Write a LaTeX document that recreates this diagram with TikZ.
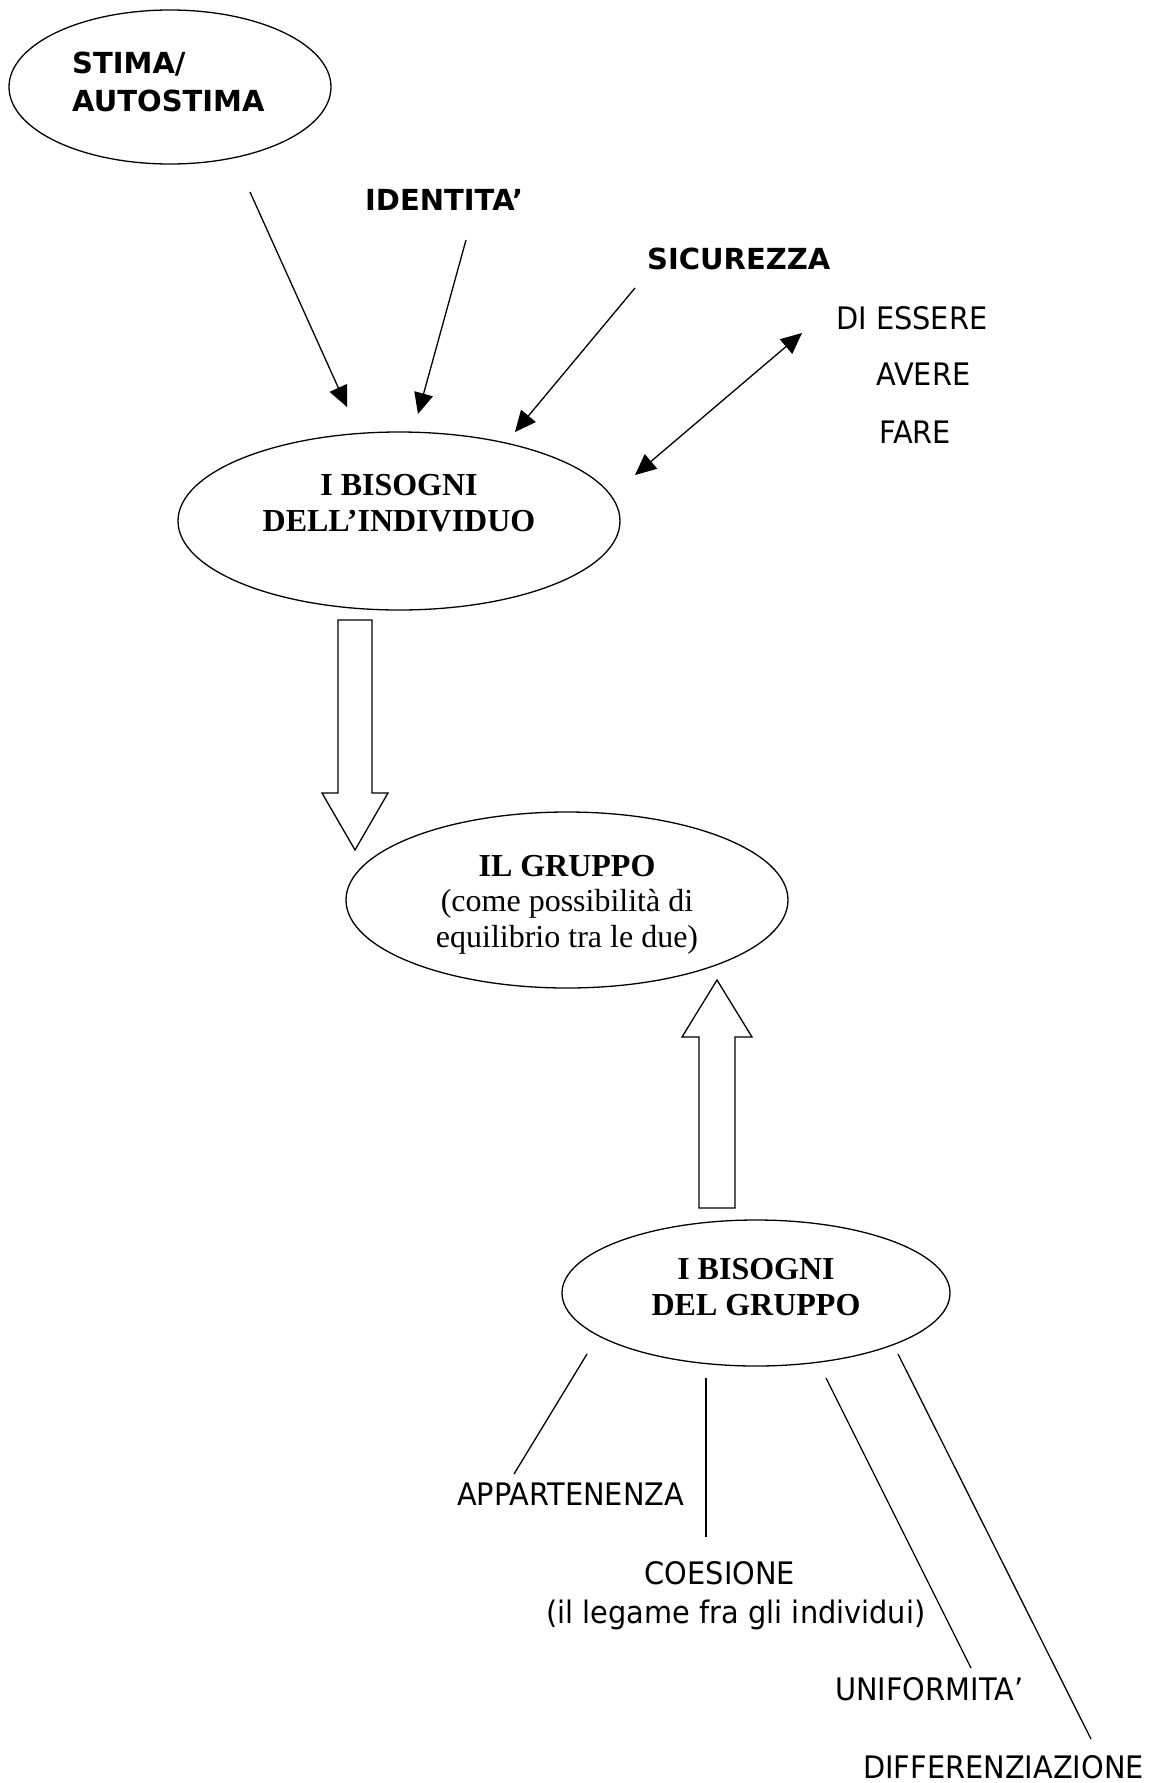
\documentclass[tikz,border=0pt]{standalone}
\usepackage{fontspec}
\setmainfont{Liberation Serif}
\newfontfamily\dvs{DejaVu Sans}
\newfontfamily\dvsn{DejaVu Sans}[FakeStretch=0.93]
\usetikzlibrary{shapes.geometric,arrows.meta}
\begin{document}
\begin{tikzpicture}[x=1pt,y=-1pt,
  bubble/.style={draw, ellipse, line width=1.3pt, inner sep=0pt},
  sbold/.style={font=\dvs\bfseries\fontsize{29}{38}\selectfont, inner sep=0pt},
  sreg/.style={font=\dvsn\fontsize{31}{39}\selectfont, inner sep=0pt},
  serifb/.style={font=\bfseries\fontsize{32}{36.5}\selectfont, inner sep=0pt, align=center},
  serifr/.style={font=\fontsize{32}{35.5}\selectfont, inner sep=0pt, align=center},
  link/.style={line width=1.3pt, -{Triangle[length=21pt,width=19pt]}},
  biglink/.style={line width=1.3pt, {Triangle[length=21pt,width=19pt]}-{Triangle[length=21pt,width=19pt]}},
  plain/.style={line width=1.3pt},
  block/.style={draw, line width=1.3pt, fill=white, line join=miter}]
\fill[white] (0,0) rectangle (1157,1783);
\path[use as bounding box] (0,0) rectangle (1157,1783);

% ellipses
\node[bubble, minimum width=322pt, minimum height=154pt] (stima) at (170,87) {};
\node[bubble, minimum width=442pt, minimum height=178pt] (indiv) at (399,521) {};
\node[bubble, minimum width=442pt, minimum height=176pt] (gruppo) at (567,900) {};
\node[bubble, minimum width=388pt, minimum height=146pt] (bgruppo) at (756,1293) {};

% texts
\node[sbold, align=left, anchor=north west] (stimatxt) at (72,52) {STIMA/\\AUTOSTIMA};
\node[sbold, anchor=north west] (identita) at (365,189) {IDENTITA’};
\node[sbold, anchor=north west] (sicurezza) at (647,248) {SICUREZZA};
\node[sreg, anchor=north west] (diessere) at (836,306) {DI ESSERE};
\node[sreg, anchor=north west] (avere) at (876,363) {AVERE};
\node[sreg, anchor=north west] (fare) at (879,421) {FARE};

\node[serifb, anchor=north] (indivtxt) at (399,474) {I BISOGNI\\DELL’INDIVIDUO};
\node[serifr, anchor=north] (gruppotxt) at (567,855) {\textbf{IL GRUPPO}\\(come possibilità di\\equilibrio tra le due)};
\node[serifb, anchor=north] (bgruppotxt) at (756,1258) {I BISOGNI\\DEL GRUPPO};

\node[sreg, anchor=north west] (appart) at (457,1483) {APPARTENENZA};
\node[sreg, align=center, anchor=north] (coesione) at (736,1561) {COESIONE\hspace*{32pt}\\(il legame fra gli individui)};
\node[sreg, anchor=north west] (uniform) at (835,1677) {UNIFORMITA’};
\node[sreg, anchor=north west] (diff) at (863,1755) {DIFFERENZIAZIONE};

% arrow end points
\coordinate (a1s) at (250,192); \coordinate (a1e) at (347,407);
\coordinate (a2s) at (466,240); \coordinate (a2e) at (418,414);
\coordinate (a3s) at (635,288); \coordinate (a3e) at (515,432);
\coordinate (a4s) at (635,475); \coordinate (a4e) at (802,333);
\coordinate (l1s) at (587,1354); \coordinate (l1e) at (514,1474);
\coordinate (l2s) at (706,1378); \coordinate (l2e) at (706,1537);
\coordinate (l3s) at (826,1378); \coordinate (l3e) at (971,1668);
\coordinate (l4s) at (898,1354); \coordinate (l4e) at (1091,1739);

\draw[link] (a1s) -- (a1e);
\draw[link] (a2s) -- (a2e);
\draw[link] (a3s) -- (a3e);
\draw[biglink] (a4s) -- (a4e);

\draw[plain] (l1s) -- (l1e);
\draw[plain] (l2s) -- (l2e);
\draw[plain] (l3s) -- (l3e);
\draw[plain] (l4s) -- (l4e);

% block arrows
\draw[block] (338,620) -- (372,620) -- (372,793) -- (388,793) -- (355,850) -- (322,793) -- (338,793) -- cycle;
\draw[block] (699,1208) -- (735,1208) -- (735,1037) -- (752,1037) -- (717,980) -- (682,1037) -- (699,1037) -- cycle;
\end{tikzpicture}
\end{document}
